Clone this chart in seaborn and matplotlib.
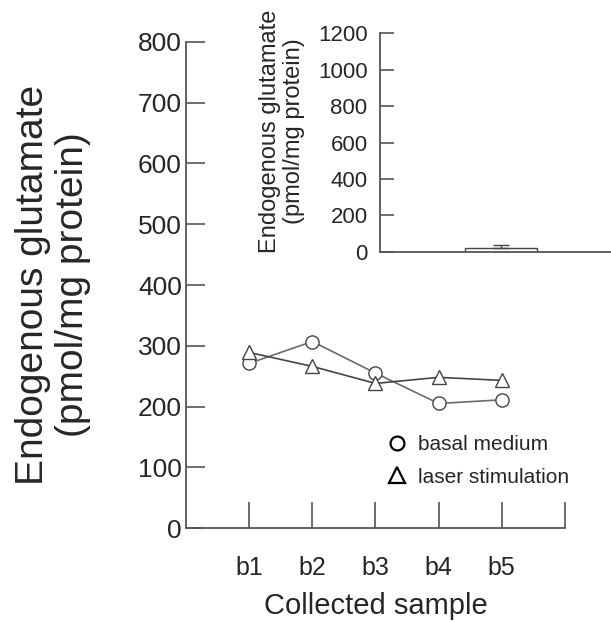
import pandas as pd
import matplotlib.pyplot as plt
import seaborn as sns
from matplotlib.lines import Line2D

# values
samples = ['b1', 'b2', 'b3', 'b4', 'b5']
basal_medium = [271, 307, 255, 205, 211]
laser_stimulation = [289, 266, 238, 248, 243]
main_yticks = [0, 100, 200, 300, 400, 500, 600, 700, 800]

inset_group = ['total']
inset_mean = [20]
inset_err = [20]
inset_yticks = [0, 200, 400, 600, 800, 1000, 1200]

df = pd.DataFrame({
    'sample': samples * 2,
    'glutamate': basal_medium + laser_stimulation,
    'condition': ['basal medium'] * len(samples) + ['laser stimulation'] * len(samples),
})

sns.set_style('ticks')
plt.rcParams['font.family'] = ['Liberation Sans', 'DejaVu Sans']

axis_col = '#555555'
fig = plt.figure(figsize=(6.11, 6.22), dpi=100)

# main panel
ax = fig.add_axes([0.3044, 0.1511, 0.6203, 0.7814])
sns.lineplot(
    data=df, x='sample', y='glutamate', hue='condition', style='condition',
    markers={'basal medium': 'o', 'laser stimulation': '^'}, dashes=False,
    palette={'basal medium': '#6a6a6a', 'laser stimulation': '#444444'},
    markersize=9.5, markerfacecolor='white', markeredgecolor='#444444',
    markeredgewidth=1.0, linewidth=1.2, legend=False, ax=ax,
)
ax.set_xlim(-1, 5)
ax.set_ylim(0, 800)
ax.set_xticks(range(len(samples) + 1), samples + [''])
ax.set_yticks(main_yticks)
ax.tick_params(axis='y', direction='in', length=14, width=1.2, color=axis_col,
               labelsize=19, pad=3)
ax.tick_params(axis='x', direction='in', length=19, width=1.2, color=axis_col,
               labelsize=18, pad=20)
ax.set_xlabel('Collected sample', fontsize=21, labelpad=9)
ax.set_ylabel('')
for side in ['top', 'right']:
    ax.spines[side].set_visible(False)
for side in ['left', 'bottom']:
    ax.spines[side].set_color(axis_col)
    ax.spines[side].set_linewidth(1.3)

handles = [
    Line2D([], [], linestyle='none', marker='o', markersize=10,
           markerfacecolor='white', markeredgecolor='black', markeredgewidth=1.6),
    Line2D([], [], linestyle='none', marker='^', markersize=11,
           markerfacecolor='white', markeredgecolor='black', markeredgewidth=1.6),
]
ax.legend(handles, ['basal medium', 'laser stimulation'], loc='upper left',
          bbox_to_anchor=(0.536, 0.191), frameon=False, fontsize=15,
          handlelength=0.8, handletextpad=0.6, labelspacing=0.65,
          borderaxespad=0, borderpad=0)

fig.text(53 / 611, 1 - 285 / 622, 'Endogenous glutamate\n(pmol/mg protein)',
         rotation=90, ha='center', va='center', fontsize=28, linespacing=1.12)

# inset panel
ax_in = fig.add_axes([0.622, 0.5949, 0.38, 0.352])
ax_in.set_facecolor('none')
sns.barplot(x=inset_group, y=inset_mean, color='white', edgecolor='#444444',
            linewidth=1.0, width=0.8, errorbar=None, ax=ax_in)
ax_in.errorbar(inset_group, inset_mean, yerr=[[0], inset_err], fmt='none',
               ecolor='#444444', elinewidth=1.0, capsize=6, capthick=1.0)
ax_in.set_xlim(-1.344, 1.233)
ax_in.set_ylim(0, 1200)
ax_in.set_xticks([])
ax_in.set_yticks(inset_yticks)
ax_in.tick_params(axis='y', direction='in', length=10, width=1.2, color=axis_col,
                  labelsize=16, pad=9)
ax_in.set_xlabel('')
ax_in.set_ylabel('')
for side in ['top', 'right']:
    ax_in.spines[side].set_visible(False)
for side in ['left', 'bottom']:
    ax_in.spines[side].set_color(axis_col)
    ax_in.spines[side].set_linewidth(1.3)

fig.text(282 / 611, 1 - 131 / 622, 'Endogenous glutamate\n(pmol/mg protein)',
         rotation=90, ha='center', va='center', fontsize=17, linespacing=1.1)

fig.savefig('out.png', dpi=100)
